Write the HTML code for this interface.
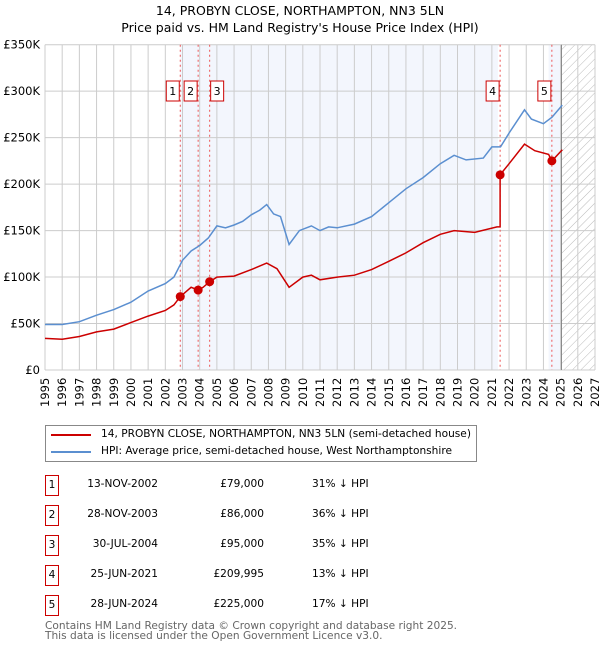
<!DOCTYPE html>
<html><head><meta charset="utf-8"><style>
body{margin:0;background:#fff;font-family:"DejaVu Sans","Liberation Sans",sans-serif;}
#wrap{position:relative;width:600px;height:650px;overflow:hidden;}
.t{position:absolute;font-size:10.6px;color:#000;white-space:nowrap;}
.box{position:absolute;width:12px;height:19px;border:1px solid #c00;font-size:10.6px;text-align:center;line-height:19px;}
</style></head><body>
<div id="wrap">
<div class="t" style="left:0;width:600px;text-align:center;top:3px;font-size:12.5px">14, PROBYN CLOSE, NORTHAMPTON, NN3 5LN</div>
<div class="t" style="left:0;width:600px;text-align:center;top:20px;font-size:12.5px">Price paid vs. HM Land Registry's House Price Index (HPI)</div>
<svg id="chart" width="600" height="420" style="position:absolute;left:0;top:0"></svg>
<div style="position:absolute;left:45px;top:425px;width:430px;height:35px;border:1px solid #888;">
 <div><div style="position:absolute;left:5px;top:8px;width:40px;height:2px;background:#c00"></div><div class="t" style="left:55px;top:2px">14, PROBYN CLOSE, NORTHAMPTON, NN3 5LN (semi-detached house)</div></div>
 <div><div style="position:absolute;left:5px;top:25px;width:40px;height:2px;background:#5b8fd0"></div><div class="t" style="left:55px;top:19px">HPI: Average price, semi-detached house, West Northamptonshire</div></div>
</div>
<div id="table"></div>
<div class="t" style="left:45px;top:620px;color:#666">Contains HM Land Registry data © Crown copyright and database right 2025.</div>
<div class="t" style="left:45px;top:630px;color:#666">This data is licensed under the Open Government Licence v3.0.</div>
</div>
<script>
const hpiYears=[1995,1996,1997,1998,1999,2000,2001,2002,2002.5,2003,2003.5,2004,2004.5,2005,2005.5,2006,2006.5,2007,2007.5,2007.9,2008.3,2008.7,2009.2,2009.8,2010.5,2011,2011.5,2012,2013,2014,2015,2016,2017,2018,2018.8,2019.5,2020.5,2021,2021.5,2022,2022.9,2023.3,2024,2024.5,2025.1];
const hpiValues=[49,49,52,59,65,73,85,93,100,118,128,134,142,155,153,156,160,167,172,178,168,165,135,150,155,150,154,153,157,165,180,195,207,222,231,226,228,240,240,255,280,270,265,272,285];
const ppYears=[1995,1996,1997,1998,1999,2000,2001,2002,2002.5,2002.87,2003.5,2003.91,2004.2,2004.58,2005,2006,2007,2007.9,2008.5,2009.2,2010,2010.5,2011,2012,2013,2014,2015,2016,2017,2018,2018.8,2020,2021.3,2021.48,2021.48,2022,2022.9,2023.5,2024.3,2024.49,2025.1];
const ppValues=[34,33,36,41,44,51,58,64,70,79,89,86,89,95,100,101,108,115,109,89,100,102,97,100,102,108,117,126,137,146,150,148,154,154,210,222,243,236,232,225,237];
const saleYears=[2002.87,2003.91,2004.58,2021.48,2024.49];
const saleValues=[79,86,95,209.995,225];
const saleLabels=["1","2","3","4","5"];
const saleDates=["13-NOV-2002","28-NOV-2003","30-JUL-2004","25-JUN-2021","28-JUN-2024"];
const salePrices=["£79,000","£86,000","£95,000","£209,995","£225,000"];
const saleHpi=["31% ↓ HPI","36% ↓ HPI","35% ↓ HPI","13% ↓ HPI","17% ↓ HPI"];
const yTicks=[0,50,100,150,200,250,300,350];
const yTickLabels=["£0","£50K","£100K","£150K","£200K","£250K","£300K","£350K"];
const X0=45,X1=595,Y0=370,Y1=44.7;
const x=v=>X0+(v-1995)/(2027-1995)*(X1-X0);
const y=v=>Y0-v/350*(Y0-Y1);
const svg=document.getElementById('chart');const NS='http://www.w3.org/2000/svg';
function mk(t,a,p){const e=document.createElementNS(NS,t);for(const k in a)e.setAttribute(k,a[k]);(p||svg).appendChild(e);return e;}
const defs=mk('defs',{});
const pat=mk('pattern',{id:'hatch',width:6,height:6,patternUnits:'userSpaceOnUse',patternTransform:'rotate(45)'},defs);
mk('line',{x1:0,y1:0,x2:0,y2:6,stroke:'#bbb','stroke-width':1},pat);
let r=mk('rect',{x:x(saleYears[0]),y:Y1,width:x(2021.35)-x(saleYears[0]),height:Y0-Y1,fill:'#f3f6fd'});

r=mk('rect',{x:x(2024.3),y:Y1,width:x(2025.05)-x(2024.3),height:Y0-Y1,fill:'#f3f6fd'});

r=mk('rect',{x:x(2025.05),y:Y1,width:X1-x(2025.05),height:Y0-Y1,fill:'url(#hatch)'});

for(let yr=1995;yr<=2027;yr++){const l=mk('line',{x1:x(yr),x2:x(yr),y1:Y1,y2:Y0,stroke:'#ccc'});
 const t=mk('text',{transform:`translate(${x(yr)+4},${Y0+37}) rotate(-90)`,'font-size':11.5,'font-family':'DejaVu Sans, sans-serif'});t.textContent=yr;
 }
yTicks.forEach((v,i)=>{const l=mk('line',{x1:X0,x2:X1,y1:y(v),y2:y(v),stroke:'#ccc'});
 const t=mk('text',{x:X0-5,y:y(v)+4,'text-anchor':'end','font-size':11.5,'font-family':'DejaVu Sans, sans-serif'});t.textContent=yTickLabels[i];
 });
let b=mk('line',{x1:x(2025.05),x2:x(2025.05),y1:Y1,y2:Y0,stroke:'#888'});

saleYears.forEach((s,i)=>{const l=mk('line',{x1:x(s),x2:x(s),y1:Y1,y2:Y0,stroke:'#e55','stroke-dasharray':'2,3'});
 });
function path(xs,vs,c,n){const p=mk('path',{d:xs.map((v,i)=>(i?'L':'M')+x(v).toFixed(1)+','+y(vs[i]).toFixed(1)).join(''),stroke:c,'stroke-width':1.5,fill:'none'});
 }
path(hpiYears,hpiValues,'#5b8fd0','hpi-line');
path(ppYears,ppValues,'#c00','price-paid-line');
saleYears.forEach((s,i)=>{const c=mk('circle',{cx:x(s),cy:y(saleValues[i]),r:4.5,fill:'#c00'});
 
 const g=mk('g',{});
 const bx=x(s)-(i==2?-1:14);
 mk('rect',{x:bx,y:81,width:13,height:20,fill:'#fff',stroke:'#c00'},g);
 const t=mk('text',{x:bx+6.5,y:95,'text-anchor':'middle','font-size':11,'font-family':'DejaVu Sans, sans-serif'},g);t.textContent=saleLabels[i];});
const tb=document.getElementById('table');
saleLabels.forEach((l,i)=>{const top=485+i*30;const row=document.createElement('div');
 
 row.innerHTML=`<div class="box" style="left:45px;top:${top-10}px">${l}</div><div class="t" style="left:58px;width:100px;text-align:right;top:${top-7}px">${saleDates[i]}</div><div class="t" style="left:164px;width:100px;text-align:right;top:${top-7}px">${salePrices[i]}</div><div class="t" style="left:312px;top:${top-7}px">${saleHpi[i]}</div>`;
 tb.appendChild(row);});
</script>
</body></html>
